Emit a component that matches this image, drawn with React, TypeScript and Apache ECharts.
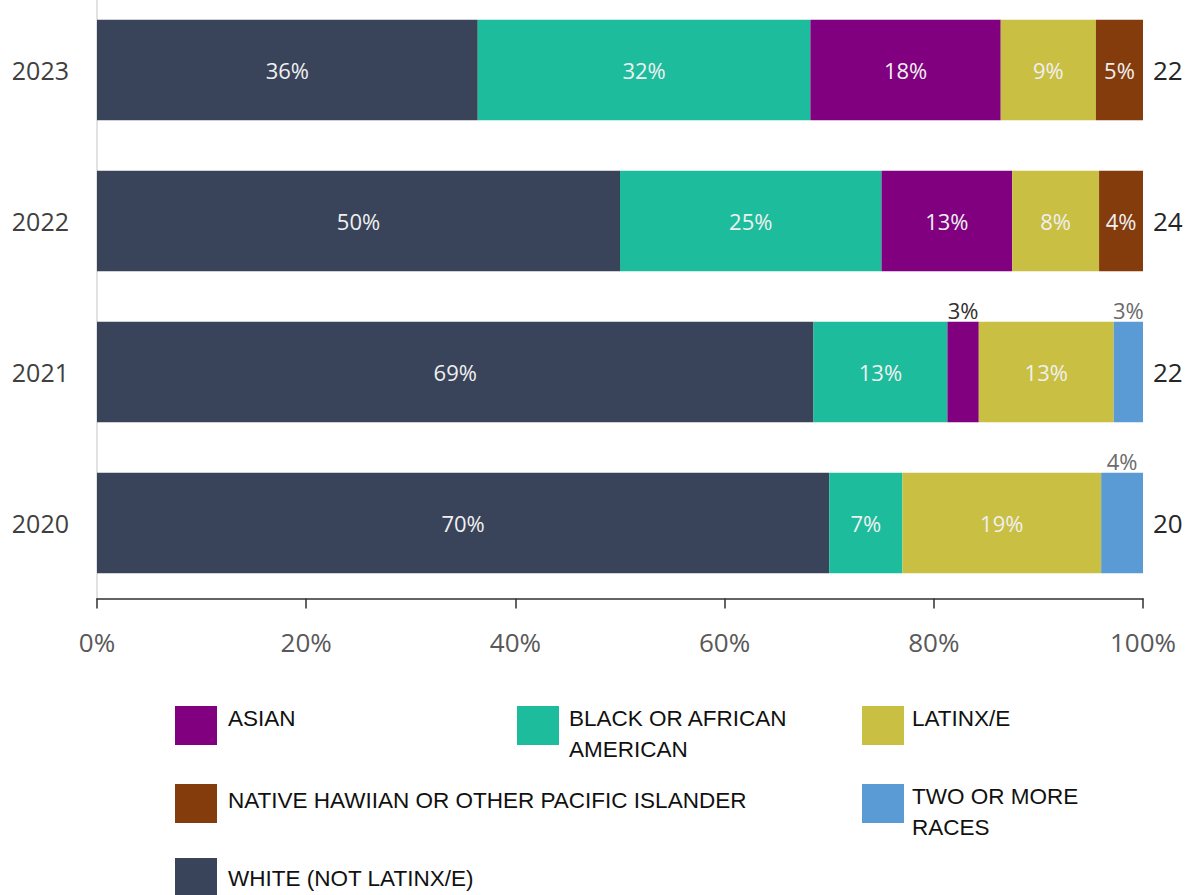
import React, { useEffect, useRef } from "react";
import * as echarts from "echarts";

const years = ["2020", "2021", "2022", "2023"];
const totals = ["20", "22", "24", "22"];
const xTicks = [0, 20, 40, 60, 80, 100];

const seriesNames = [
  "WHITE (NOT LATINX/E)",
  "BLACK OR AFRICAN AMERICAN",
  "ASIAN",
  "LATINX/E",
  "NATIVE HAWIIAN OR OTHER PACIFIC ISLANDER",
  "TWO OR MORE RACES",
];
const white = [70, 68.5, 50, 36.4];
const black = [7, 12.8, 25, 31.8];
const asian = [null, 3.0, 12.5, 18.2];
const latinx = [19, 12.9, 8.3, 9.1];
const native = [null, null, 4.2, 4.5];
const twoOrMore = [4, 2.8, null, null];

const seriesValues = [white, black, asian, latinx, native, twoOrMore];
const colors = ["#394359", "#1cbc9c", "#800080", "#c9bf43", "#843c0c", "#5b9bd5"];

// indexes of bars whose label sits above the bar, with its colour
const labelsAbove: Record<number, Record<number, string>> = {
  2: { 1: "#303030" },
  5: { 0: "#6b6b6b", 1: "#6b6b6b" },
};

// the chart canvas starts 6px above the page so the plot can reach the very top
const SHIFT = 6;

// legend layout: [series index, square x, square y, text x, text cap-top y, text]
const legendItems: [number, number, number, number, number, string][] = [
  [2, 175, 706, 228, 710, "ASIAN"],
  [1, 517, 706, 569, 710, "BLACK OR AFRICAN\nAMERICAN"],
  [3, 862, 706, 912, 710, "LATINX/E"],
  [4, 175, 784, 228, 792, "NATIVE HAWIIAN OR OTHER PACIFIC ISLANDER"],
  [5, 862, 784, 912, 788, "TWO OR MORE\nRACES"],
  [0, 175, 858, 228, 870, "WHITE (NOT LATINX/E)"],
];

export default function App() {
  const ref = useRef<HTMLDivElement>(null);
  useEffect(() => {
    if (!ref.current) return;
    const chart = echarts.init(ref.current, undefined, { renderer: "svg" });
    const series = seriesValues.map((vals, si) => ({
      name: seriesNames[si],
      type: "bar",
      stack: "total",
      barCategoryGap: "33.4%",
      yAxisIndex: 0,
      itemStyle: { color: colors[si] },
      label: {
        show: true,
        position: "inside",
        color: "#f0f0f0",
        fontSize: 22,
        fontFamily: "Open Sans",
        formatter: (p: any) => (p.value == null ? "" : Math.round(p.value) + "%"),
      },
      data: vals.map((v, i) => {
        const above = labelsAbove[si] && labelsAbove[si][i];
        if (v != null && above) {
          return { value: v, label: { position: "top", distance: 1, color: above } };
        }
        return v;
      }),
    }));

    const graphic: any[] = [];
    legendItems.forEach(([si, sx, sy, tx, ty, text]) => {
      graphic.push({
        type: "rect",
        shape: { x: sx, y: sy + SHIFT, width: 42, height: 39 },
        style: { fill: colors[si] },
      });
      graphic.push({
        type: "text",
        x: tx,
        y: ty - 7 + SHIFT,
        style: {
          text,
          fill: "#111111",
          font: '22.5px "Liberation Sans"',
          lineHeight: 31,
          verticalAlign: "top",
          align: "left",
        },
      });
    });

    chart.setOption({
      animation: false,
      grid: { left: 97, right: 52, top: 0.5, bottom: 296.5, containLabel: false },
      xAxis: {
        type: "value",
        min: xTicks[0],
        max: xTicks[xTicks.length - 1],
        interval: 20,
        axisLine: { show: true, lineStyle: { color: "#303030", width: 1.5 } },
        axisTick: { show: true, length: 10, lineStyle: { color: "#303030", width: 1.5 } },
        splitLine: { show: false },
        axisLabel: {
          formatter: "{value}%",
          fontSize: 26,
          fontFamily: "Open Sans",
          color: "#595959",
          margin: 30,
        },
      },
      yAxis: [
        {
          type: "category",
          data: years,
          axisLine: { show: true, lineStyle: { color: "#d9d9d9", width: 1.5 } },
          axisTick: { show: false },
          axisLabel: { fontSize: 25, fontFamily: "Open Sans", color: "#404040", margin: 28 },
        },
        {
          type: "category",
          position: "right",
          data: totals,
          axisLine: { show: false },
          axisTick: { show: false },
          axisLabel: { fontSize: 26, fontFamily: "Open Sans", color: "#262626", margin: 10 },
        },
      ],
      series,
      graphic,
    });
    return () => chart.dispose();
  }, []);
  return (
    <div
      ref={ref}
      style={{ position: "fixed", left: 0, top: -SHIFT, width: 1195, height: 895 + SHIFT, background: "#fff" }}
    />
  );
}
